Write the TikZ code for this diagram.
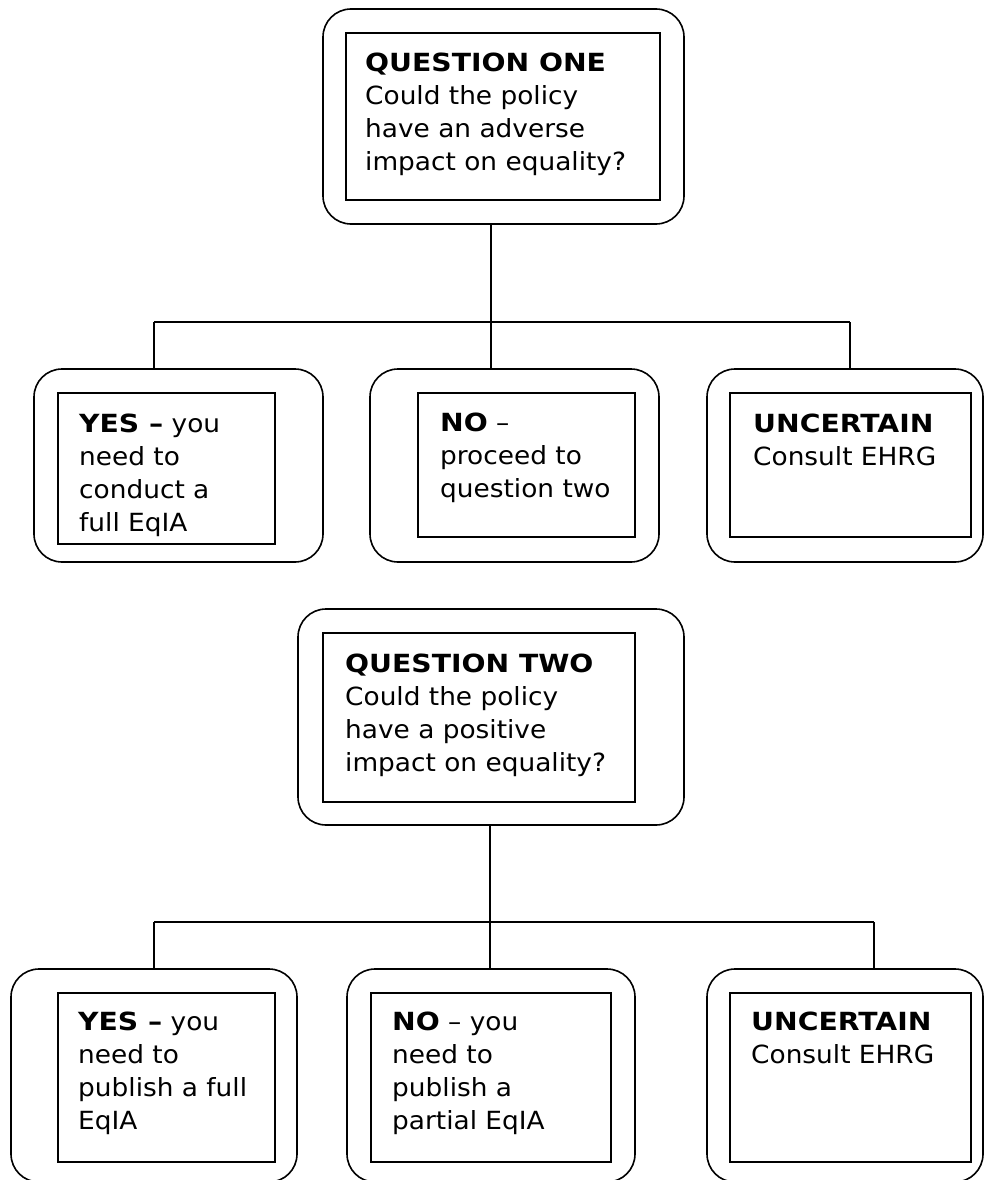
\documentclass[tikz,border=0pt]{standalone}
\usepackage{fontspec}
\setmainfont{DejaVu Sans}[FakeStretch=1.055,BoldFeatures={FakeStretch=1.13}]
\begin{document}
\begin{tikzpicture}[x=1pt,y=-1pt,
  outerbox/.style={draw,line width=1.6pt,rounded corners=28pt,inner sep=0pt,minimum width=#1},
  innerbox/.style={draw,line width=1.6pt,inner sep=0pt,minimum width=#1},
  txt/.style={anchor=base west,inner sep=0pt,font=\fontsize{25}{33}\selectfont},
  conn/.style={line width=1.5pt}]
\useasboundingbox (0,0) rectangle (984,1180);
\clip (0,0) rectangle (984,1180);
\newcommand\tb[1]{\parbox[t]{320pt}{\raggedright #1}}
% Question one
\node[outerbox=361pt,minimum height=215pt] (q1) at (503.5,116.5) {};
\node[innerbox=314pt,minimum height=167pt] (q1i) at (503,116.5) {};
\node[txt] (q1t) at (365,72) {\tb{\textbf{QUESTION ONE}\\Could the policy\\have an adverse\\impact on equality?}};
% Row one
\node[outerbox=289pt,minimum height=193pt] (y1) at (178.5,465.5) {};
\node[innerbox=217pt,minimum height=151pt] (y1i) at (166.5,468.5) {};
\node[txt] (y1t) at (79,432) {\tb{\textbf{YES –} you\\need to\\conduct a\\full EqIA}};
\node[outerbox=289pt,minimum height=193pt] (n1) at (514.5,465.5) {};
\node[innerbox=217pt,minimum height=144pt] (n1i) at (526.5,465) {};
\node[txt] (n1t) at (440,431) {\tb{\textbf{NO} –\\proceed to\\question two}};
\node[outerbox=276pt,minimum height=193pt] (u1) at (845,465.5) {};
\node[innerbox=241pt,minimum height=144pt] (u1i) at (850.5,465) {};
\node[txt] (u1t) at (753,432) {\tb{\textbf{UNCERTAIN}\\Consult EHRG}};
% connectors one
\coordinate (j1) at (491,322);
\coordinate (h1l) at (154,322);
\coordinate (h1r) at (850,322);
\draw[conn] (q1.south -| j1) -- (j1);
\draw[conn] (h1l) -- (h1r);
\draw[conn] (h1l) -- (h1l |- y1.north);
\draw[conn] (j1) -- (j1 |- n1.north);
\draw[conn] (h1r) -- (h1r |- u1.north);
% Question two
\node[outerbox=386pt,minimum height=216pt] (q2) at (491,717) {};
\node[innerbox=312pt,minimum height=169pt] (q2i) at (479,717.5) {};
\node[txt] (q2t) at (345,672) {\tb{\textbf{QUESTION TWO}\\Could the policy\\have a positive\\impact on equality?}};
% Row two
\node[outerbox=286pt,minimum height=213pt] (y2) at (154,1075.5) {};
\node[innerbox=217pt,minimum height=169pt] (y2i) at (166.5,1077.5) {};
\node[txt] (y2t) at (78,1030) {\tb{\textbf{YES –} you\\need to\\publish a full\\EqIA}};
\node[outerbox=288pt,minimum height=213pt] (n2) at (491,1075.5) {};
\node[innerbox=240pt,minimum height=169pt] (n2i) at (491,1077.5) {};
\node[txt] (n2t) at (392,1030) {\tb{\textbf{NO} – you\\need to\\publish a\\partial EqIA}};
\node[outerbox=276pt,minimum height=213pt] (u2) at (845,1075.5) {};
\node[innerbox=241pt,minimum height=169pt] (u2i) at (850.5,1077.5) {};
\node[txt] (u2t) at (751,1030) {\tb{\textbf{UNCERTAIN}\\Consult EHRG}};
% connectors two
\coordinate (j2) at (490,922);
\coordinate (h2l) at (154,922);
\coordinate (h2r) at (874,922);
\draw[conn] (q2.south -| j2) -- (j2);
\draw[conn] (h2l) -- (h2r);
\draw[conn] (h2l) -- (h2l |- y2.north);
\draw[conn] (j2) -- (j2 |- n2.north);
\draw[conn] (h2r) -- (h2r |- u2.north);
\end{tikzpicture}
\end{document}
